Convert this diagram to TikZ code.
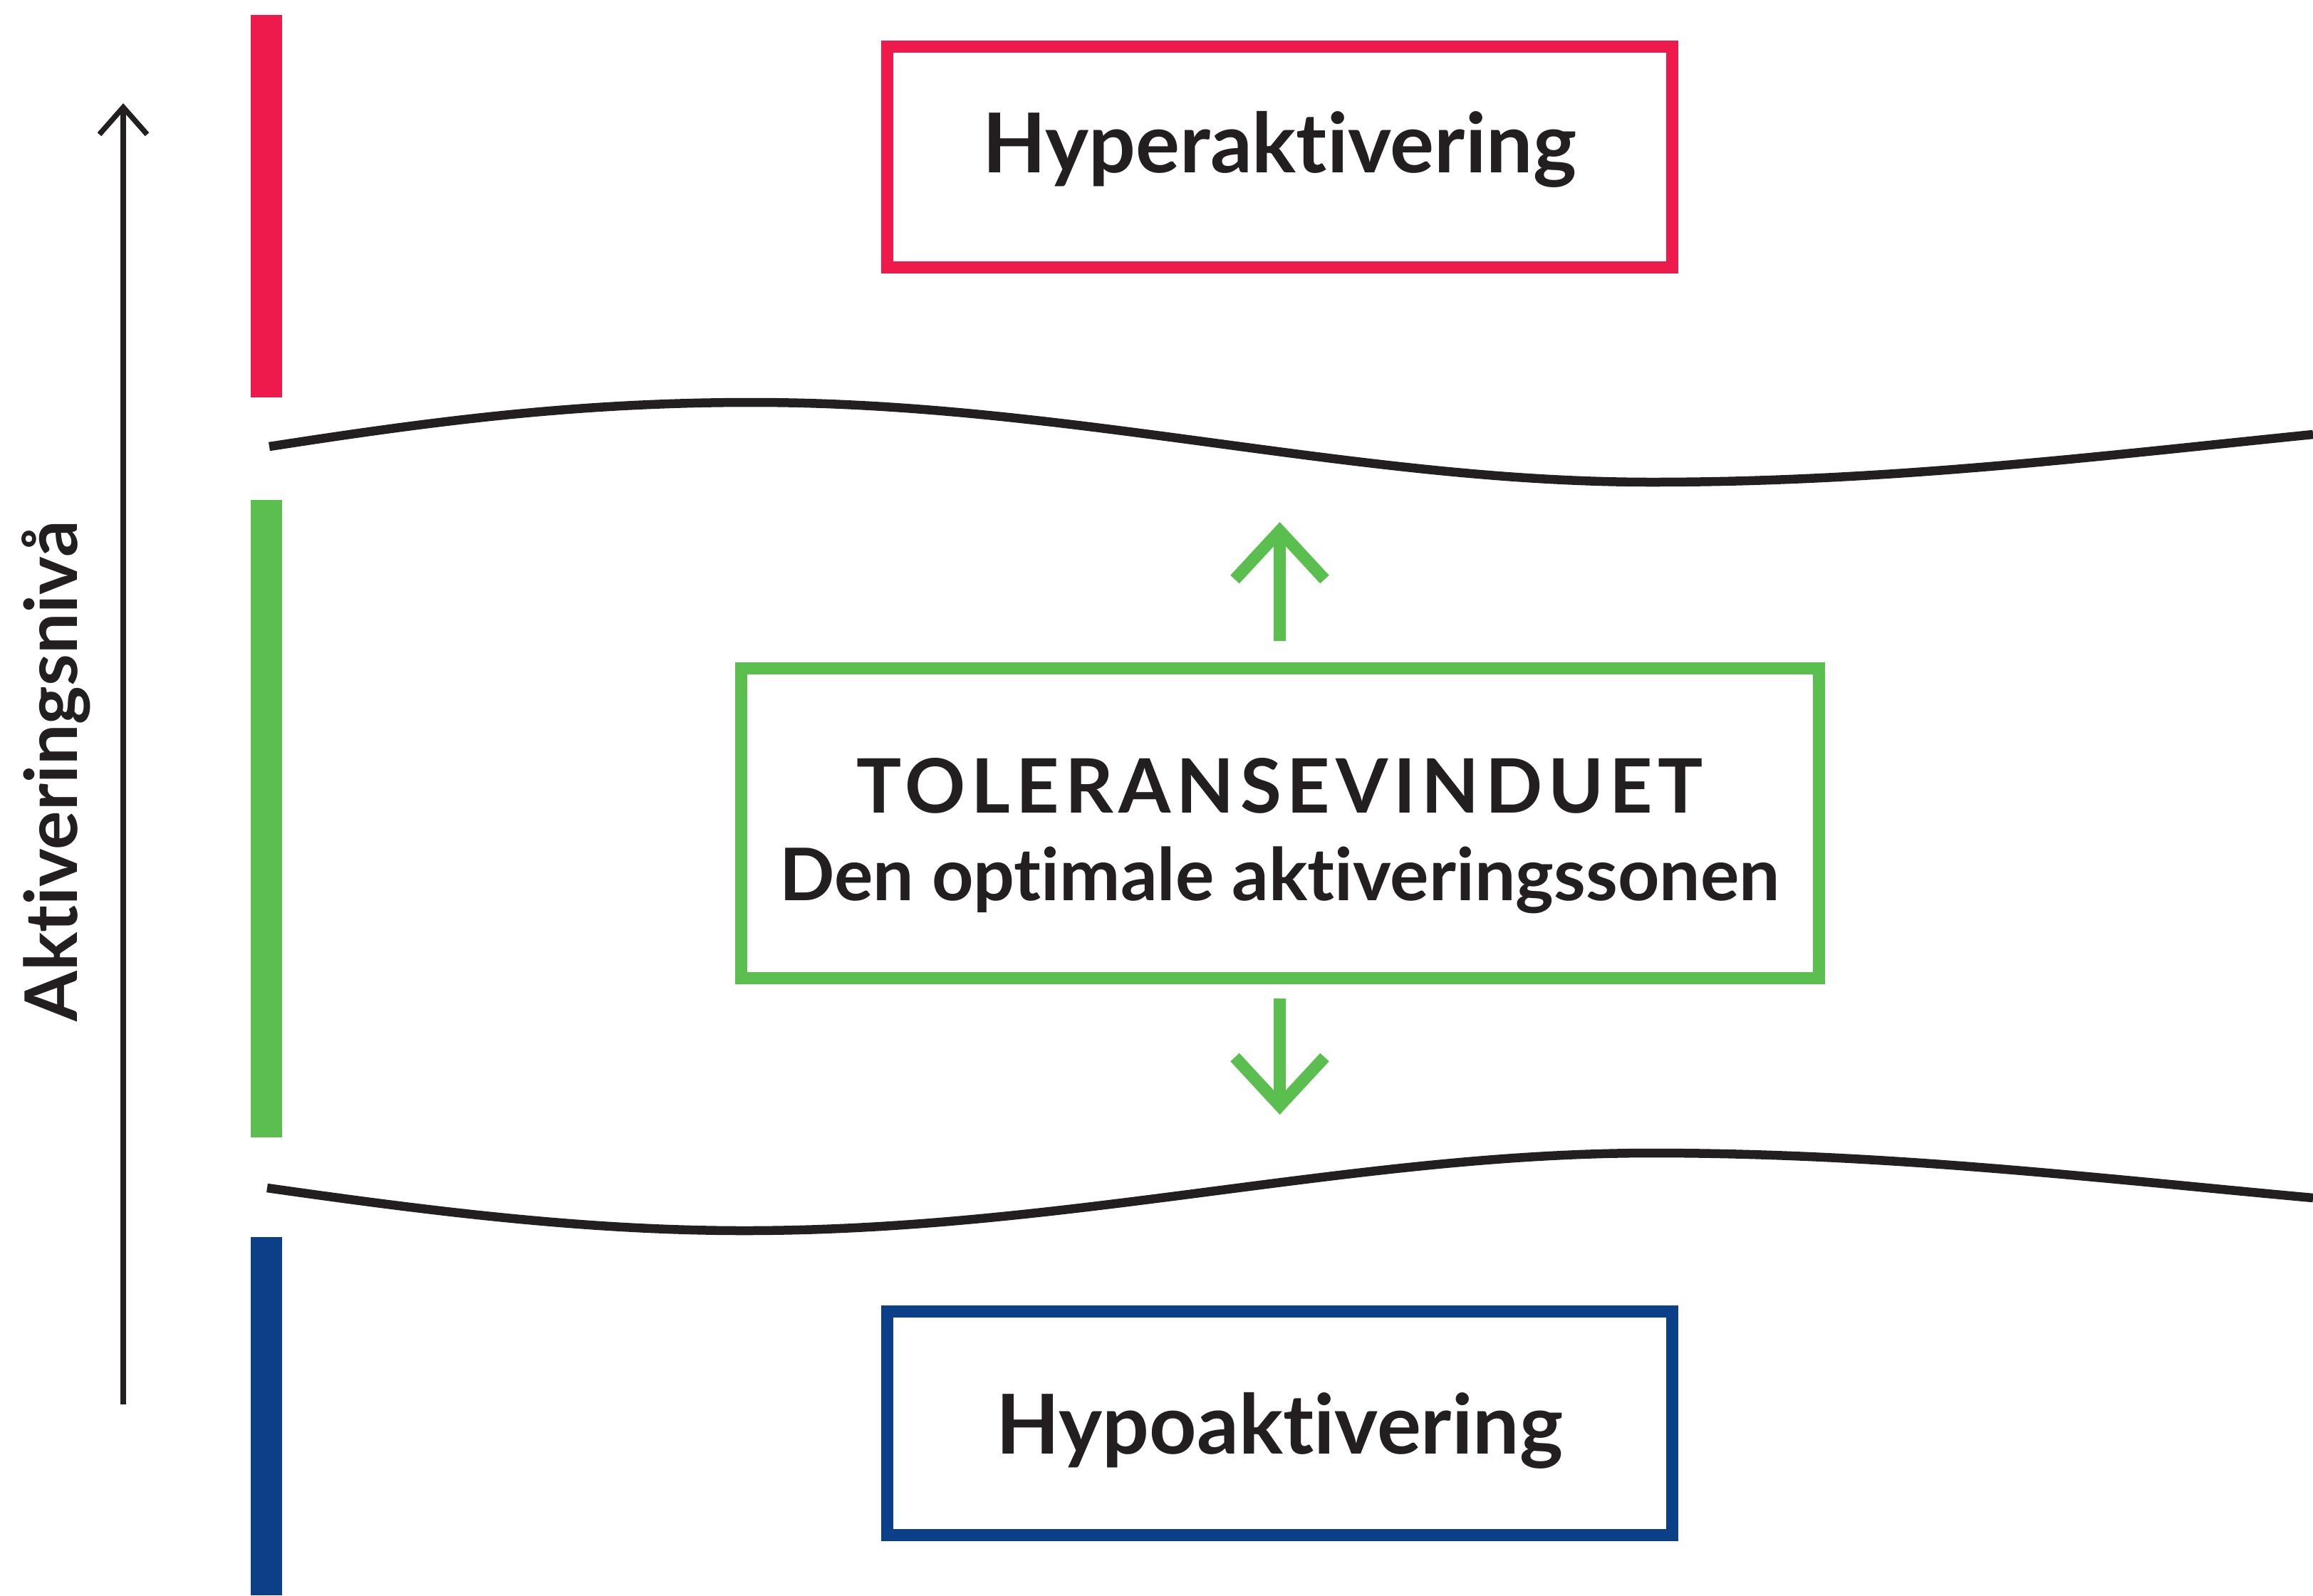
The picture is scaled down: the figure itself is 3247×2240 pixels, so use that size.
\documentclass[tikz,border=0pt]{standalone}
\usepackage{fontspec}
\setmainfont{Lato}[Ligatures=NoCommon]
\usetikzlibrary{arrows.meta}
\definecolor{hyperred}{HTML}{ED1A4B}
\definecolor{zonegreen}{HTML}{5BBF50}
\definecolor{hypoblue}{HTML}{0B3F87}
\definecolor{inkdark}{HTML}{231F20}
\newcommand\boxline{1.7mm}
\newcommand\barleft{352}
\newcommand\barright{396}
\tikzset{
  zonebox/.style={draw=#1, line width=\boxline, outer sep=0pt, inner sep=0pt,
    text=inkdark, font=\bfseries\fontsize{33pt}{40pt}\selectfont},
  wave/.style={draw=inkdark, line width=1.25mm},
  axisline/.style={draw=inkdark, line width=0.75mm,
    -{Straight Barb[sharp,length=3.8mm,width=6.7mm]}},
  shiftarrow/.style={draw=zonegreen, line width=1.7mm,
    -{Straight Barb[sharp,length=6.8mm,width=12.6mm]}},
}
\begin{document}
\begin{tikzpicture}[x=0.1mm,y=-0.1mm]
    \useasboundingbox (0,0) rectangle (3247,2240);

    \fill[hyperred] (\barleft,21) rectangle (\barright,558);
    \fill[zonegreen] (\barleft,702) rectangle (\barright,1597);
    \fill[hypoblue] (\barleft,1737) rectangle (\barright,2240);

    \coordinate (axbot) at (173,1972);
    \coordinate (axtop) at (173,145);
    \draw[axisline] (axbot) -- (axtop);
    \node[rotate=90,anchor=base,text=inkdark,font=\bfseries\fontsize{29pt}{34pt}\selectfont] (level) at (108,1083) {Aktiveringsnivå};

    \draw[wave] (378,627) .. controls (604,592) and (806,565) .. (1056,565)
      .. controls (1500,565) and (1900,677) .. (2319,677)
      .. controls (2650,677) and (2950,640) .. (3247,610);
    \draw[wave] (375,1668) .. controls (600,1700) and (820,1728) .. (1045,1728)
      .. controls (1500,1728) and (1900,1619) .. (2319,1619)
      .. controls (2650,1619) and (2950,1655) .. (3247,1682);

    \node[zonebox=hyperred,minimum width=110.2mm,minimum height=31mm,text depth=12pt] (hyper) at (1796,220) {Hyperaktivering};
    \node[zonebox=zonegreen,minimum width=151.3mm,minimum height=43.5mm,align=center,
      font=\bfseries\fontsize{29pt}{35pt}\selectfont] (tol) at (1796.5,1155.5)
      {\rule{0pt}{32pt}{\fontsize{30pt}{35pt}\selectfont\addfontfeature{LetterSpace=7.5}TOLERANSEVINDUET}\\
       Den optimale aktiveringssonen};
    \node[zonebox=hypoblue,minimum width=110.2mm,minimum height=31.4mm,text depth=0pt] (hypo) at (1796,1998) {Hypoaktivering};

    \coordinate (uptip) at (1796.5,733);
    \coordinate (downtip) at (1796.5,1565);
    \draw[shiftarrow,shorten <=3.8mm] (tol.north) -- (uptip);
    \draw[shiftarrow,shorten <=2.9mm] (tol.south) -- (downtip);
\end{tikzpicture}
\end{document}
